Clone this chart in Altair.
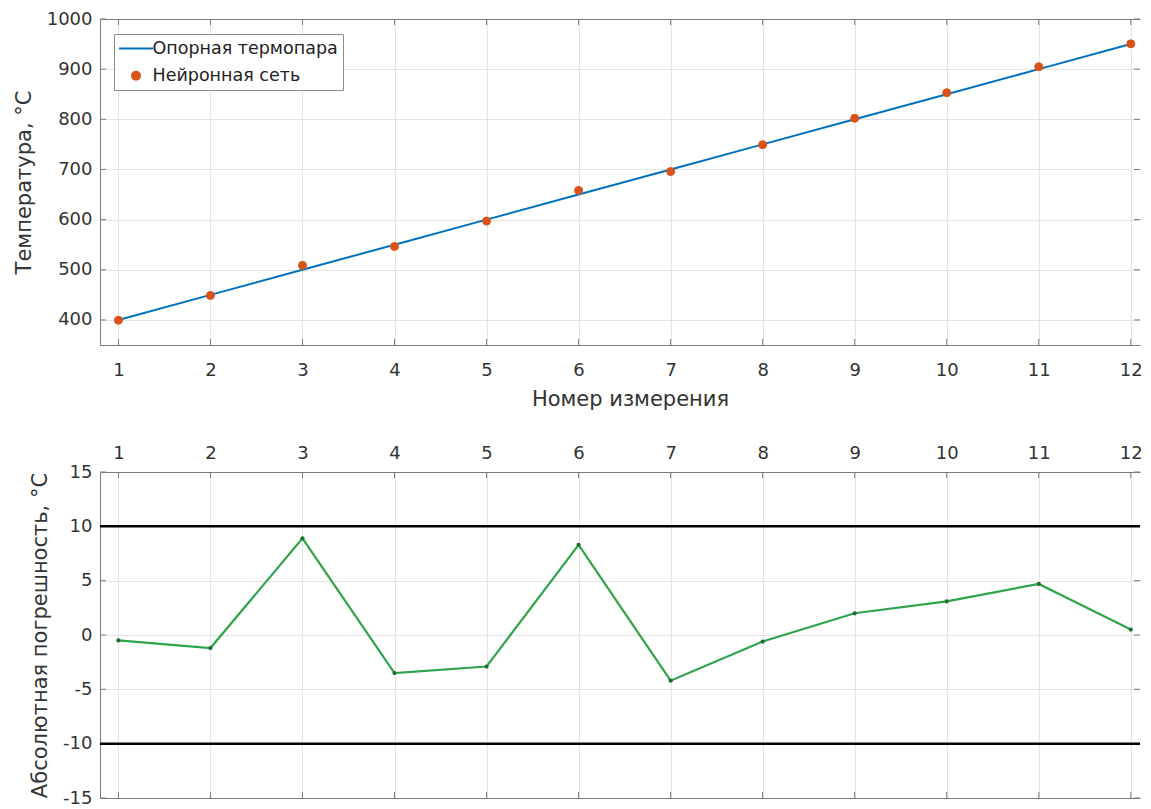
import altair as alt
import pandas as pd

# ---- data ----
N = [1, 2, 3, 4, 5, 6, 7, 8, 9, 10, 11, 12]
REF = [400, 450, 500, 550, 600, 650, 700, 750, 800, 850, 900, 950]
NET = [399.5, 448.8, 508.9, 546.5, 597.1, 658.3, 695.8, 749.4, 802.0, 853.1, 904.7, 950.5]
ERR = [-0.5, -1.2, 8.9, -3.5, -2.9, 8.3, -4.2, -0.6, 2.0, 3.1, 4.7, 0.5]
LIMITS = [10, -10]
XT = [1, 2, 3, 4, 5, 6, 7, 8, 9, 10, 11, 12]
YT_TOP = [400, 500, 600, 700, 800, 900, 1000]
YT_BOT = [-15, -10, -5, 0, 5, 10, 15]
SER_REF = "Опорная термопара"
SER_NET = "Нейронная сеть"
SERIES = [SER_REF, SER_NET]

# ---- style ----
FONT = "DejaVu Sans"
BLUE = "#0072BD"
ORANGE = "#D95319"
GREEN = "#2ea44c"
GREEN_DARK = "#1e6e32"
AX = "#7a7a7a"
GRID = "#e4e4e4"
TXT = "#333333"
W, H1, H2 = 1040, 326, 326
TK = 6

xscale = alt.Scale(domain=[0.8, 12.1], nice=False, zero=False)

df_ref = pd.DataFrame({"n": N, "t": REF})
df_net = pd.DataFrame({"n": N, "t": NET, "s": SER_NET})
df_err = pd.DataFrame({"n": N, "e": ERR})
df_xt = pd.DataFrame({"n": XT})
df_yt_top = pd.DataFrame({"t": YT_TOP})
df_yt_bot = pd.DataFrame({"e": YT_BOT})
df_lim = pd.DataFrame({"e": LIMITS})

ax_x_bottom_labels = alt.Axis(orient="bottom", values=XT, title="Номер измерения", grid=True,
                              ticks=False, labelPadding=16, titlePadding=9, format="d", titleX=530)
ax_x_top_plain = alt.Axis(orient="top", labels=False, ticks=False, grid=False, domain=True, title=None)
ax_x_top_labels = alt.Axis(orient="top", values=XT, title=None, grid=True, ticks=False,
                           labelPadding=10, format="d")
ax_x_bottom_plain = alt.Axis(orient="bottom", labels=False, ticks=False, grid=False, domain=True, title=None)

LABEL_EXPR = "'' + datum.value"
yenc_top = alt.Y("t:Q", scale=alt.Scale(domain=[350, 1000], nice=False, zero=False),
                 axis=alt.Axis(values=YT_TOP, title="Температура, °C", grid=True, ticks=False,
                               labelPadding=8, titlePadding=12, labelExpr=LABEL_EXPR))
yenc_bot = alt.Y("e:Q", scale=alt.Scale(domain=[-15, 15], nice=False, zero=False),
                 axis=alt.Axis(values=YT_BOT, title="Абсолютная погрешность, °C", grid=True,
                               ticks=False, labelPadding=8, titlePadding=12, labelExpr=LABEL_EXPR))

legend = alt.Legend(
    title=None, orient="none", legendX=14, legendY=15, padding=5,
    fillColor="white", strokeColor="#8c8c8c", labelFont=FONT, labelFontSize=17.5,
    labelColor="#222222", rowPadding=9, labelOffset=7, symbolOffset=7.5,
    symbolStrokeWidth=2, labelLimit=400,
)

fill = alt.Fill("s:N", scale=alt.Scale(domain=SERIES, range=[BLUE, ORANGE]), legend=legend)
stroke = alt.Stroke("s:N", scale=alt.Scale(domain=SERIES, range=[BLUE, ORANGE]), legend=legend)
shape = alt.Shape("s:N", scale=alt.Scale(domain=SERIES, range=["M-2,0H2", "circle"]), legend=legend)
size = alt.Size("s:N", scale=alt.Scale(domain=SERIES, range=[289, 64]), legend=legend)

# ---- top panel ----
line_top = alt.Chart(df_ref).mark_line(color=BLUE, strokeWidth=2).encode(
    x=alt.X("n:Q", scale=xscale, axis=ax_x_bottom_labels), y=yenc_top)
pts_top = alt.Chart(df_net).mark_point(filled=True, opacity=1, strokeWidth=1).encode(
    x=alt.X("n:Q", scale=xscale, axis=None), y=yenc_top,
    fill=fill, stroke=stroke, shape=shape, size=size)
tx_top = alt.Chart(df_xt).mark_rule(color=AX).encode(
    x=alt.X("n:Q", scale=xscale, axis=ax_x_top_plain), y=alt.value(0), y2=alt.value(TK))
tx_bot = alt.Chart(df_xt).mark_rule(color=AX).encode(
    x=alt.X("n:Q", scale=xscale, axis=None), y=alt.value(H1), y2=alt.value(H1 - TK))
ty_l = alt.Chart(df_yt_top).mark_rule(color=AX).encode(y=yenc_top, x=alt.value(0), x2=alt.value(TK))
ty_r = alt.Chart(df_yt_top).mark_rule(color=AX).encode(y=yenc_top, x=alt.value(W), x2=alt.value(W - TK))

top = alt.layer(line_top, tx_top, tx_bot, ty_l, ty_r, pts_top).resolve_axis(x="independent").properties(
    width=W, height=H1)

# ---- bottom panel ----
lim = alt.Chart(df_lim).mark_rule(color="black", strokeWidth=2.5).encode(y=yenc_bot)
err_line = alt.Chart(df_err).mark_line(color=GREEN, strokeWidth=2.2).encode(
    x=alt.X("n:Q", scale=xscale, axis=ax_x_top_labels), y=yenc_bot)
err_pts = alt.Chart(df_err).mark_point(filled=True, size=18, opacity=1, color=GREEN_DARK).encode(
    x=alt.X("n:Q", scale=xscale, axis=None), y=yenc_bot)
bx_top = alt.Chart(df_xt).mark_rule(color=AX).encode(
    x=alt.X("n:Q", scale=xscale, axis=None), y=alt.value(0), y2=alt.value(TK))
bx_bot = alt.Chart(df_xt).mark_rule(color=AX).encode(
    x=alt.X("n:Q", scale=xscale, axis=ax_x_bottom_plain), y=alt.value(H2), y2=alt.value(H2 - TK))
by_l = alt.Chart(df_yt_bot).mark_rule(color=AX).encode(y=yenc_bot, x=alt.value(0), x2=alt.value(TK))
by_r = alt.Chart(df_yt_bot).mark_rule(color=AX).encode(y=yenc_bot, x=alt.value(W), x2=alt.value(W - TK))

bottom = alt.layer(bx_top, bx_bot, by_l, by_r, lim, err_line, err_pts).resolve_axis(x="independent").properties(
    width=W, height=H2)

chart = alt.vconcat(top, bottom, spacing=35).properties(
    padding={"left": 5, "top": 2, "right": 0, "bottom": 0}
).configure_view(stroke=None).configure_axis(
    labelFont=FONT, titleFont=FONT, labelColor=TXT, titleColor=TXT,
    labelFontSize=18, titleFontSize=21, titleFontWeight="normal",
    domainColor=AX, domainWidth=1, gridColor=GRID, gridWidth=1,
).configure_legend(labelFont=FONT)

chart.save("out.html", embed_options={"renderer": "svg", "actions": False})
